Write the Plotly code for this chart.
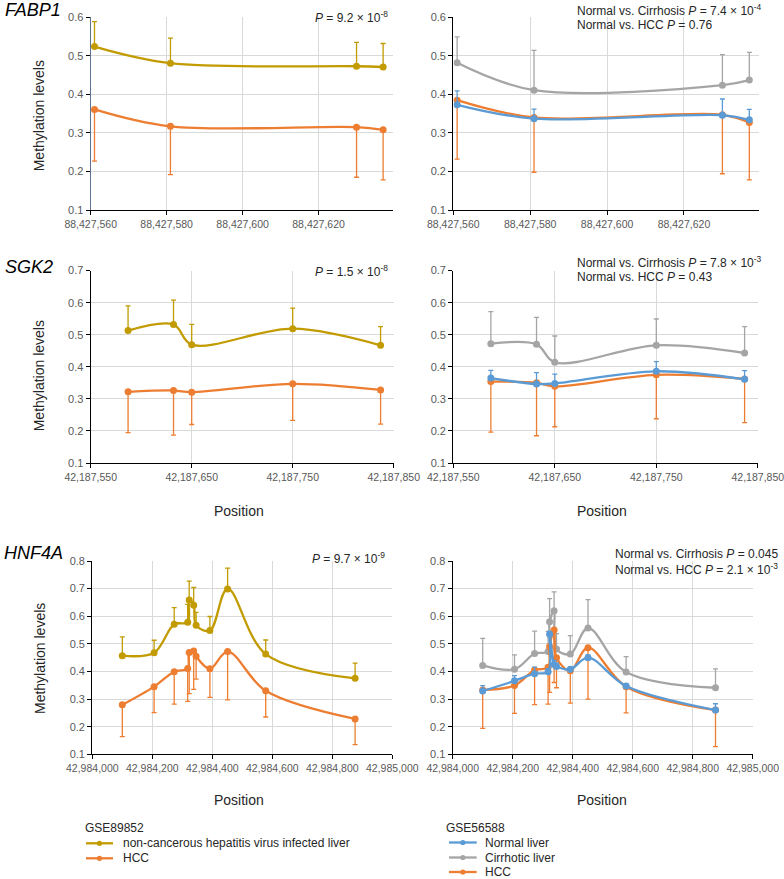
import plotly.graph_objects as go

W, H = 784, 879
FONT = "Arial, Liberation Sans, sans-serif"

# ---------------- FABP1 ----------------
fabp1_pos = [88427561, 88427581, 88427630, 88427637]
fabp1_gse89852_nonc = [0.524, 0.481, 0.473, 0.471]
fabp1_gse89852_nonc_upper = [0.589, 0.546, 0.535, 0.532]
fabp1_gse89852_hcc = [0.361, 0.317, 0.315, 0.308]
fabp1_gse89852_hcc_lower = [0.227, 0.192, 0.185, 0.178]
fabp1_gse56588_normal = [0.373, 0.337, 0.346, 0.334]
fabp1_gse56588_normal_upper = [0.409, 0.362, 0.388, 0.361]
fabp1_gse56588_cirr = [0.482, 0.411, 0.424, 0.437]
fabp1_gse56588_cirr_upper = [0.549, 0.514, 0.503, 0.509]
fabp1_gse56588_hcc = [0.385, 0.340, 0.347, 0.327]
fabp1_gse56588_hcc_lower = [0.232, 0.198, 0.194, 0.178]

# ---------------- SGK2 ----------------
sgk2_pos = [42187587, 42187632, 42187650, 42187750, 42187837]
sgk2_gse89852_nonc = [0.513, 0.532, 0.469, 0.519, 0.467]
sgk2_gse89852_nonc_upper = [0.590, 0.608, 0.532, 0.583, 0.525]
sgk2_gse89852_hcc = [0.322, 0.326, 0.321, 0.347, 0.328]
sgk2_gse89852_hcc_lower = [0.195, 0.187, 0.220, 0.233, 0.221]
sgk2_gse56588_normal = [0.365, 0.346, 0.348, 0.386, 0.361]
sgk2_gse56588_normal_upper = [0.389, 0.382, 0.377, 0.416, 0.388]
sgk2_gse56588_cirr = [0.472, 0.470, 0.414, 0.467, 0.443]
sgk2_gse56588_cirr_upper = [0.572, 0.554, 0.496, 0.549, 0.525]
sgk2_gse56588_hcc = [0.354, 0.350, 0.339, 0.375, 0.362]
sgk2_gse56588_hcc_lower = [0.196, 0.185, 0.213, 0.238, 0.226]

# ---------------- HNF4A ----------------
hnf4a_pos = [42984100, 42984206, 42984273, 42984318, 42984323, 42984338,
             42984346, 42984392, 42984451, 42984578, 42984876]
hnf4a_gse89852_nonc = [0.457, 0.468, 0.571, 0.578, 0.659, 0.640, 0.567, 0.548, 0.699, 0.463, 0.375]
hnf4a_gse89852_nonc_upper = [0.525, 0.513, 0.631, 0.643, 0.727, 0.704, 0.614, 0.599, 0.774, 0.514, 0.430]
hnf4a_gse89852_hcc = [0.279, 0.345, 0.399, 0.411, 0.469, 0.474, 0.455, 0.410, 0.472, 0.330, 0.228]
hnf4a_gse89852_hcc_lower = [0.164, 0.251, 0.282, 0.292, 0.320, 0.335, 0.372, 0.306, 0.297, 0.235, 0.135]
hnf4a_gse56588_normal = [0.329, 0.366, 0.392, 0.399, 0.535, 0.425, 0.418, 0.408, 0.450, 0.347, 0.260]
hnf4a_gse56588_normal_upper = [0.349, 0.385, 0.416, 0.410, 0.545, 0.440, 0.430, 0.415, 0.460, 0.355, 0.283]
hnf4a_gse56588_cirr = [0.422, 0.408, 0.465, 0.472, 0.580, 0.620, 0.481, 0.463, 0.557, 0.398, 0.341]
hnf4a_gse56588_cirr_upper = [0.520, 0.460, 0.546, 0.545, 0.664, 0.688, 0.537, 0.530, 0.660, 0.454, 0.409]
hnf4a_gse56588_hcc = [0.333, 0.349, 0.405, 0.415, 0.490, 0.550, 0.450, 0.403, 0.486, 0.345, 0.260]
hnf4a_gse56588_hcc_lower = [0.194, 0.248, 0.280, 0.282, 0.324, 0.360, 0.341, 0.285, 0.300, 0.250, 0.128]

gene_labels = ["FABP1", "SGK2", "HNF4A"]
left_pvalues = ["9.2 × 10<sup>-8</sup>", "1.5 × 10<sup>-8</sup>", "9.7 × 10<sup>-9</sup>"]
right_cirr_pvalues = ["7.4 × 10<sup>-4</sup>", "7.8 × 10<sup>-3</sup>", "0.045"]
right_hcc_pvalues = ["0.76", "0.43", "2.1 × 10<sup>-3</sup>"]

legend_left_title = "GSE89852"
legend_left_items = ["non-cancerous hepatitis virus infected liver", "HCC"]
legend_right_title = "GSE56588"
legend_right_items = ["Normal liver", "Cirrhotic liver", "HCC"]

GOLD = "#C29B00"
ORANGE = "#ED7D31"
BLUE = "#5B9BD5"
GRAY = "#A5A5A5"
TXT = "#262626"


def fx(p):
    return p / W


def fy(p):
    return 1 - p / H


fig = go.Figure()


def ax_ref(i):
    return ("x", "y") if i == 1 else (f"x{i}", f"y{i}")


def add_series(i, x, y, color, upper=None, lower=None):
    if upper is not None:
        plus = [u - v for u, v in zip(upper, y)]
        minus = [0] * len(y)
    else:
        plus = [0] * len(y)
        minus = [v - l for v, l in zip(y, lower)]
    xr, yr = ax_ref(i)
    fig.add_trace(go.Scatter(
        x=x, y=y, mode="lines+markers", xaxis=xr, yaxis=yr,
        line=dict(color=color, width=2.3, shape="spline", smoothing=1),
        marker=dict(color=color, size=7),
        error_y=dict(type="data", symmetric=False, array=plus, arrayminus=minus,
                     color=color, thickness=1.3, width=2.5),
        showlegend=False, hoverinfo="skip"))


rows = [
    (fabp1_pos,
     (fabp1_gse89852_nonc, fabp1_gse89852_nonc_upper, fabp1_gse89852_hcc, fabp1_gse89852_hcc_lower),
     (fabp1_gse56588_cirr, fabp1_gse56588_cirr_upper, fabp1_gse56588_hcc, fabp1_gse56588_hcc_lower,
      fabp1_gse56588_normal, fabp1_gse56588_normal_upper)),
    (sgk2_pos,
     (sgk2_gse89852_nonc, sgk2_gse89852_nonc_upper, sgk2_gse89852_hcc, sgk2_gse89852_hcc_lower),
     (sgk2_gse56588_cirr, sgk2_gse56588_cirr_upper, sgk2_gse56588_hcc, sgk2_gse56588_hcc_lower,
      sgk2_gse56588_normal, sgk2_gse56588_normal_upper)),
    (hnf4a_pos,
     (hnf4a_gse89852_nonc, hnf4a_gse89852_nonc_upper, hnf4a_gse89852_hcc, hnf4a_gse89852_hcc_lower),
     (hnf4a_gse56588_cirr, hnf4a_gse56588_cirr_upper, hnf4a_gse56588_hcc, hnf4a_gse56588_hcc_lower,
      hnf4a_gse56588_normal, hnf4a_gse56588_normal_upper)),
]

for r, (pos, L, R) in enumerate(rows):
    il = 2 * r + 1
    ir = 2 * r + 2
    add_series(il, pos, L[0], GOLD, upper=L[1])
    add_series(il, pos, L[2], ORANGE, lower=L[3])
    add_series(ir, pos, R[0], GRAY, upper=R[1])
    add_series(ir, pos, R[2], ORANGE, lower=R[3])
    add_series(ir, pos, R[4], BLUE, upper=R[5])

# layout geometry (pixels)
row_y = [(17.3, 210.0), (270.6, 463.0), (561.0, 754.3)]
col_x = [[(90.7, 393.0), (453.3, 759.3)],
         [(90.7, 393.7), (453.3, 757.8)],
         [(92.3, 392.3), (452.7, 752.7)]]
x_ranges = [[88427560, 88427639.6], [42187550, 42187850], [42984000, 42985000]]
x_ticks = [dict(tickvals=[88427560, 88427580, 88427600, 88427620]),
           dict(tick0=42187550, dtick=100),
           dict(tick0=42984000, dtick=200)]
y_ranges = [[0.1, 0.6], [0.1, 0.7], [0.1, 0.8]]

layout = dict(
    template="none",
    width=W, height=H, autosize=False,
    margin=dict(l=0, r=0, t=0, b=0, pad=0),
    paper_bgcolor="white", plot_bgcolor="white",
    font=dict(family=FONT, color=TXT),
    hovermode=False, showlegend=False,
)

for r in range(3):
    for c in range(2):
        i = 2 * r + c + 1
        xk = "xaxis" if i == 1 else f"xaxis{i}"
        yk = "yaxis" if i == 1 else f"yaxis{i}"
        xr, yr = ax_ref(i)
        x0, x1 = col_x[r][c]
        y0, y1 = row_y[r]
        common = dict(showline=True, linecolor="black", linewidth=1.3,
                      ticks="outside", ticklen=4, tickcolor="black", tickwidth=1,
                      showgrid=True, gridcolor="#D9D9D9", gridwidth=1, zeroline=False,
                      automargin=False, tickangle=0, ticklabeloverflow="allow",
                      tickfont=dict(family=FONT, size=10.5, color="#595959"), fixedrange=True)
        layout[xk] = dict(common, domain=[fx(x0), fx(x1)], anchor=yr,
                          range=x_ranges[r], tickformat=",d", **x_ticks[r])
        ycommon = dict(common)
        ycommon["tickfont"] = dict(family=FONT, size=11, color="#595959")
        if i == 1:
            ycommon["linecolor"] = "#5F7390"
        layout[yk] = dict(ycommon, domain=[fy(y1), fy(y0)], anchor=xr,
                          range=y_ranges[r], dtick=0.1, tick0=0.1, tickformat=".1f")

fig.update_layout(**layout)

ann = []
gene_y = [9.5, 267, 553]
gene_x = [2.5, 3, 1.7]
for g, yy, xx in zip(gene_labels, gene_y, gene_x):
    ann.append(dict(text=f"<i>{g}</i>", x=fx(xx), y=fy(yy), xref="paper", yref="paper",
                    xanchor="left", yanchor="middle", showarrow=False,
                    font=dict(size=18, color="black", family=FONT)))
for yy, xx in zip([116, 376, 659], [39.3, 39.3, 40]):
    ann.append(dict(text="Methylation levels", x=fx(xx), y=fy(yy), xref="paper", yref="paper",
                    xanchor="center", yanchor="middle", textangle=-90, showarrow=False,
                    font=dict(size=14, color=TXT, family=FONT)))
for yy in [511, 800]:
    for xx in [238.5, 601.5]:
        ann.append(dict(text="Position", x=fx(xx), y=fy(yy), xref="paper", yref="paper",
                        xanchor="center", yanchor="middle", showarrow=False,
                        font=dict(size=14, color=TXT, family=FONT)))
left_p_pos = [(390, 17), (390, 270.7), (387, 558)]
for t, (xx, yy) in zip(left_pvalues, left_p_pos):
    ann.append(dict(text=f"<i>P</i> = {t}", x=fx(xx), y=fy(yy), xref="paper", yref="paper",
                    xanchor="right", yanchor="middle", showarrow=False,
                    font=dict(size=12, color=TXT, family=FONT)))
right_p_pos = [(575, 9.8, 25), (575, 261.7, 276.7), (612.7, 554, 569)]
for t1, t2, (xx, ya, yb) in zip(right_cirr_pvalues, right_hcc_pvalues, right_p_pos):
    ann.append(dict(text=f"Normal vs. Cirrhosis <i>P</i> = {t1}", x=fx(xx), y=fy(ya),
                    xref="paper", yref="paper", xanchor="left", yanchor="middle",
                    showarrow=False, font=dict(size=12, color=TXT, family=FONT)))
    ann.append(dict(text=f"Normal vs. HCC <i>P</i> = {t2}", x=fx(xx), y=fy(yb),
                    xref="paper", yref="paper", xanchor="left", yanchor="middle",
                    showarrow=False, font=dict(size=12, color=TXT, family=FONT)))

shapes = []


def legend_block(title, items, colors, x_title, y_title, x_line0, x_line1, x_text, ys):
    ann.append(dict(text=title, x=fx(x_title), y=fy(y_title), xref="paper", yref="paper",
                    xanchor="left", yanchor="middle", showarrow=False,
                    font=dict(size=12, color=TXT, family=FONT)))
    for it, col, yy in zip(items, colors, ys):
        shapes.append(dict(type="line", xref="paper", yref="paper",
                           x0=fx(x_line0), x1=fx(x_line1), y0=fy(yy), y1=fy(yy),
                           line=dict(color=col, width=2.3)))
        xm = (x_line0 + x_line1) / 2
        shapes.append(dict(type="circle", xref="paper", yref="paper",
                           x0=fx(xm - 2.6), x1=fx(xm + 2.6), y0=fy(yy + 2.6), y1=fy(yy - 2.6),
                           fillcolor=col, line=dict(color=col, width=0)))
        ann.append(dict(text=it, x=fx(x_text), y=fy(yy), xref="paper", yref="paper",
                        xanchor="left", yanchor="middle", showarrow=False,
                        font=dict(size=12, color=TXT, family=FONT)))


legend_block(legend_left_title, legend_left_items, [GOLD, ORANGE],
             82.7, 828, 86, 113, 120.7, [843.3, 858.3])
legend_block(legend_right_title, legend_right_items, [BLUE, GRAY, ORANGE],
             444, 827.5, 449, 476.7, 482.7, [842.5, 857.5, 872])

fig.update_layout(annotations=ann, shapes=shapes)
# remove the browser's default 8px body margin so the figure fills the window exactly
fig.write_html("out.html", config={"displayModeBar": False},
               post_script="document.body.style.margin='0px';document.body.style.overflow='hidden';")
